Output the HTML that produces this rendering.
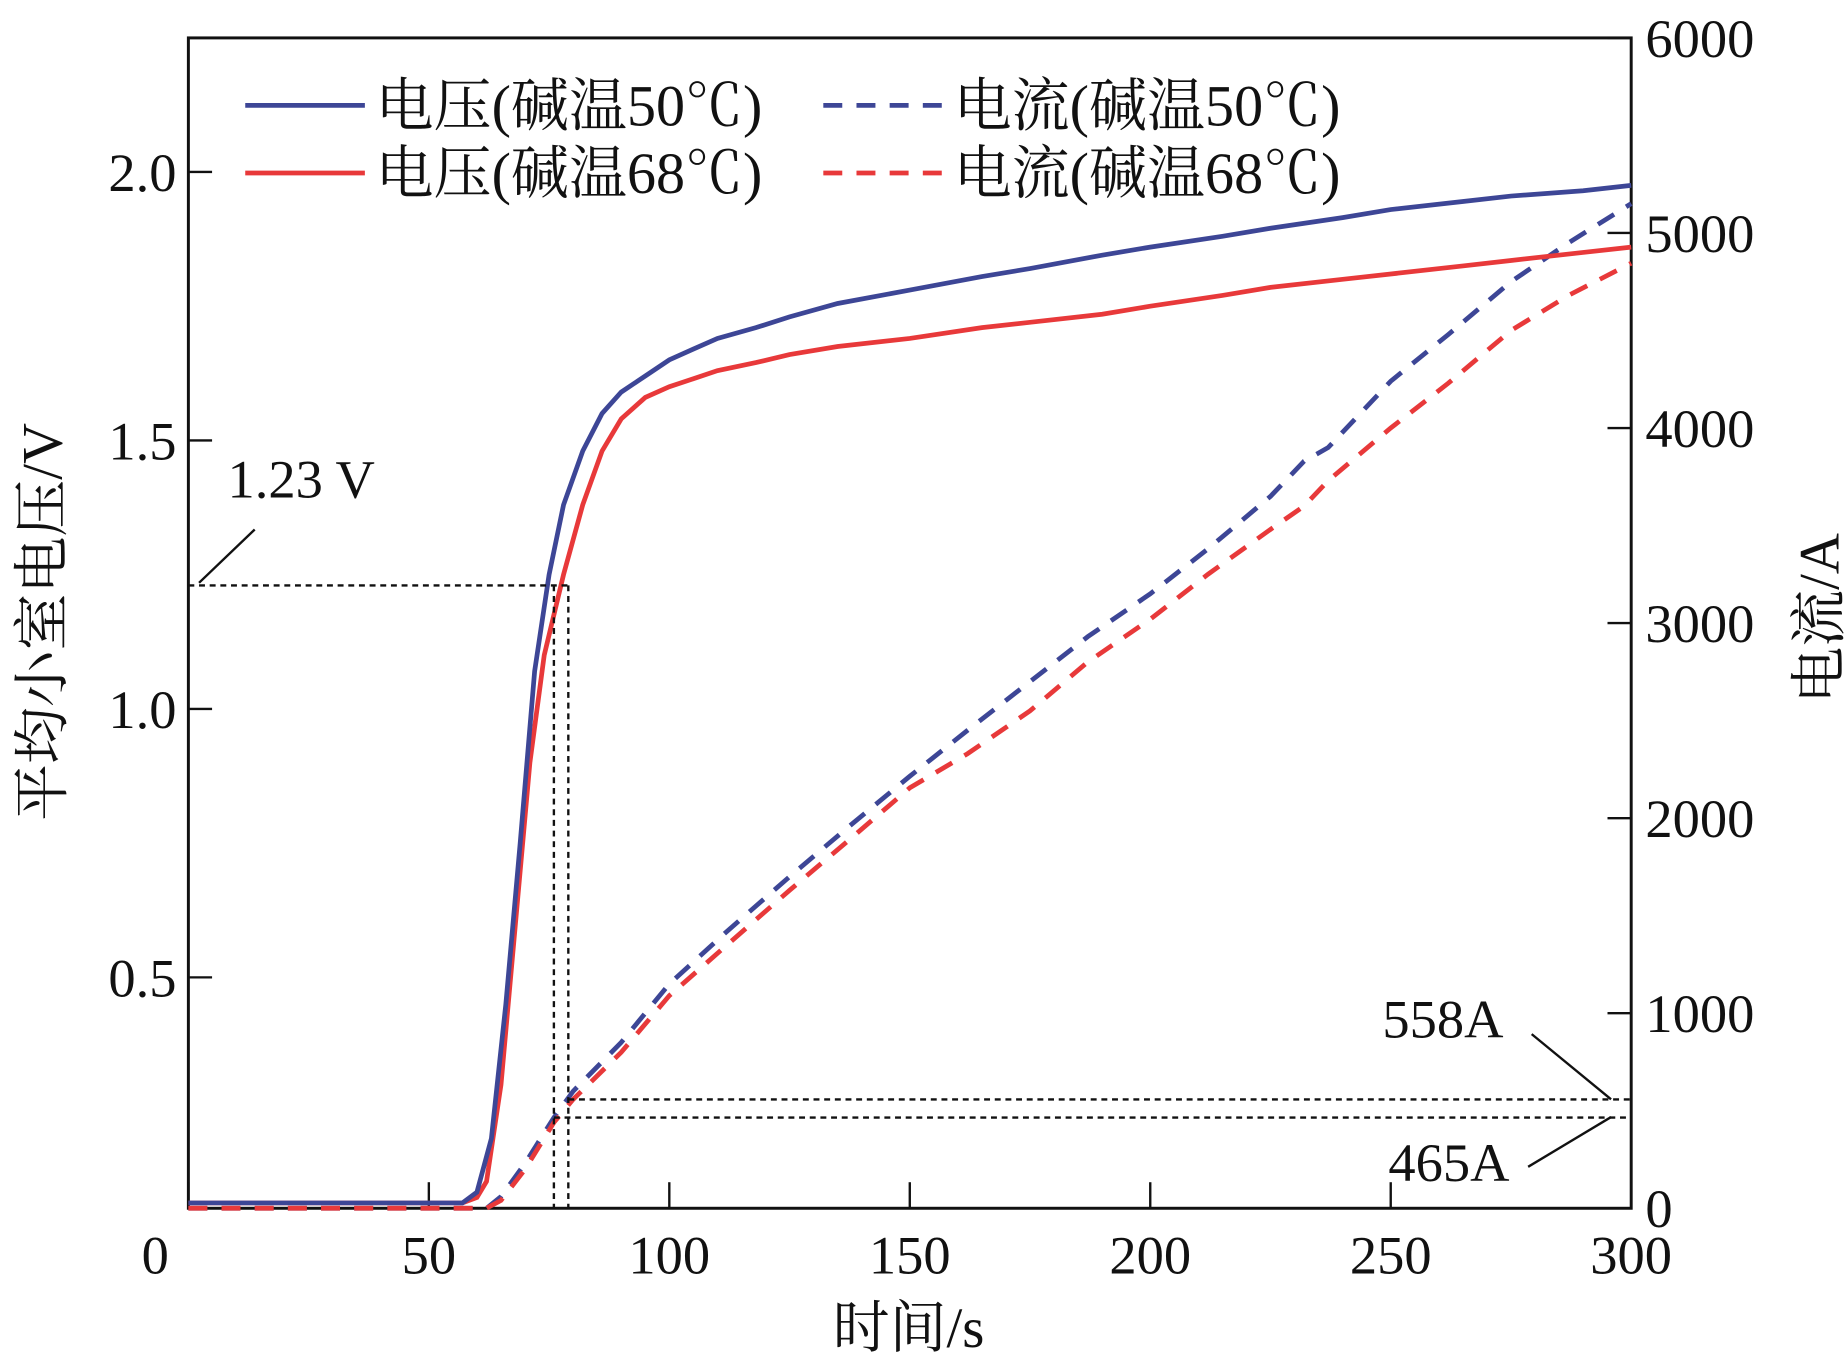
<!DOCTYPE html>
<html><head><meta charset="utf-8"><style>
html,body{margin:0;padding:0;background:#fff;}
svg{display:block;}
text{font-family:"Liberation Serif","Noto Serif CJK SC",serif;fill:#111;}
</style></head><body>
<svg id="chart" width="1848" height="1358" viewBox="0 0 1560 1146.4" xmlns="http://www.w3.org/2000/svg">
<g id="plot"></g>
</svg>
<script>
const xTicks=[0,50,100,150,200,250,300];
const vTicks=[0.5,1.0,1.5,2.0];
const vTickLabels=["0.5","1.0","1.5","2.0"];
const iTicks=[0,1000,2000,3000,4000,5000,6000];
const tV50=[0,57,60,63,66,69,72,75,78,82,86,90,95,100,105,110,118,125,135,150,165,175,190,200,215,225,240,250,265,275,290,300];
const v50=[0.08,0.08,0.1,0.2,0.45,0.75,1.07,1.25,1.38,1.48,1.55,1.59,1.62,1.65,1.67,1.69,1.71,1.73,1.755,1.78,1.805,1.82,1.845,1.86,1.88,1.895,1.915,1.93,1.945,1.955,1.965,1.975];
const tV68=[0,57,60,62,65,68,71,74,78,82,86,90,95,100,105,110,118,125,135,150,165,175,190,200,215,225,240,250,265,275,290,300];
const v68=[0.08,0.08,0.09,0.12,0.3,0.6,0.9,1.1,1.25,1.38,1.48,1.54,1.58,1.6,1.615,1.63,1.645,1.66,1.675,1.69,1.71,1.72,1.735,1.75,1.77,1.785,1.8,1.81,1.825,1.835,1.85,1.86];
const tI=[0,62,65,70,76,80,90,100,112,125,137,150,162,175,187,200,212,225,232,237,250,262,275,287,300];
const i50=[0,0,60,230,465,600,850,1150,1420,1700,1950,2215,2450,2700,2930,3150,3380,3650,3830,3900,4240,4480,4750,4950,5150];
const i68=[0,0,40,200,440,558,800,1090,1350,1630,1880,2155,2330,2550,2800,3020,3250,3480,3600,3730,4000,4230,4500,4680,4845];
const L=159,R=1377,T=32,B=1020;
const xs=t=>L+(t/300)*(R-L);
const ys=v=>B-(v-0.07)*453.3;
const yi=a=>B-a*0.16467;
const NS="http://www.w3.org/2000/svg";
const g=document.getElementById('plot');
function mk(tag,at,parent){const e=document.createElementNS(NS,tag);for(const k in at)e.setAttribute(k,at[k]);(parent||g).appendChild(e);return e;}
function txt(s,at){const e=mk('text',at);e.textContent=s;return e;}
const fr=mk('rect',{x:L,y:T,width:R-L,height:B-T,fill:'none',stroke:'#111','stroke-width':2.5});


xTicks.forEach(t=>{
  const l=mk('line',{x1:xs(t),x2:xs(t),y1:B,y2:B-22,stroke:'#111','stroke-width':2});
  
  
  const e=txt(String(t),{x:xs(t)+(t===0?-28:0),y:B+55,'font-size':46,'text-anchor':'middle'});
  
  
});
vTicks.forEach((v,k)=>{
  const l=mk('line',{x1:L,x2:L+20,y1:ys(v),y2:ys(v),stroke:'#111','stroke-width':2});
  
  
  const e=txt(vTickLabels[k],{x:L-10,y:ys(v)+16,'font-size':46,'text-anchor':'end'});
  
  
});
iTicks.forEach(a=>{
  const l=mk('line',{x1:R,x2:R-20,y1:yi(a),y2:yi(a),stroke:'#111','stroke-width':2});
  
  
  const e=txt(String(a),{x:R+12,y:yi(a)+16,'font-size':46});
  
  
});
function path(ts,vs,f){return ts.map((t,k)=>(k?'L':'M')+xs(t).toFixed(1)+','+f(vs[k]).toFixed(1)).join(' ');}
const blue='#3d4696',red='#e8393a';
const s1=mk('path',{d:path(tI,i50,yi),fill:'none',stroke:blue,'stroke-width':4,'stroke-dasharray':'16 12'});


const s2=mk('path',{d:path(tI,i68,yi),fill:'none',stroke:red,'stroke-width':4,'stroke-dasharray':'16 12'});


const s3=mk('path',{d:path(tV68,v68,ys),fill:'none',stroke:red,'stroke-width':4});


const s4=mk('path',{d:path(tV50,v50,ys),fill:'none',stroke:blue,'stroke-width':4});


const d={fill:'none',stroke:'#111','stroke-width':2,'stroke-dasharray':'5 4'};
const refs=[[L,ys(1.23),xs(79),ys(1.23),'ref-1.23v'],[xs(76),ys(1.23),xs(76),B,'ref-76s'],[xs(79),ys(1.23),xs(79),B,'ref-79s'],[xs(79),yi(558),R,yi(558),'ref-558a'],[xs(76),yi(465),R,yi(465),'ref-465a']];
refs.forEach(r=>{const l=mk('line',Object.assign({x1:r[0],y1:r[1],x2:r[2],y2:r[3]},d));
  
  });
const leaders=[[168,492,215,447],[1293,873,1360,928],[1290,985,1360,943]];
leaders.forEach(p=>{const l=mk('line',{x1:p[0],y1:p[1],x2:p[2],y2:p[3],stroke:'#111','stroke-width':2});
  
  });
let a=txt('1.23 V',{x:192,y:420,'font-size':46});
a=txt('558A',{x:1167,y:876,'font-size':46});
a=txt('465A',{x:1172,y:997,'font-size':46});
const leg=[[207,89,blue,null,'电压(碱温50℃)','legend-voltage-50c'],[207,146,red,null,'电压(碱温68℃)','legend-voltage-68c'],[695,89,blue,'16 12','电流(碱温50℃)','legend-current-50c'],[695,146,red,'16 12','电流(碱温68℃)','legend-current-68c']];
leg.forEach(e=>{
  const l=mk('line',{x1:e[0],x2:e[0]+101,y1:e[1],y2:e[1],stroke:e[2],'stroke-width':4});
  if(e[3])l.setAttribute('stroke-dasharray',e[3]);
  
  
  const t=txt(e[4],{x:e[0]+110,y:e[1]+17,'font-size':49});
  
  
});
a=txt('时间/s',{x:767,y:1137,'font-size':48,'text-anchor':'middle'});
a=txt('平均小室电压/V',{x:0,y:0,'font-size':48,'text-anchor':'middle',transform:'translate(52,525) rotate(-90)'});
a=txt('电流/A',{x:0,y:0,'font-size':48,'text-anchor':'middle',transform:'translate(1552,522) rotate(-90)'});
</script>
</body></html>
